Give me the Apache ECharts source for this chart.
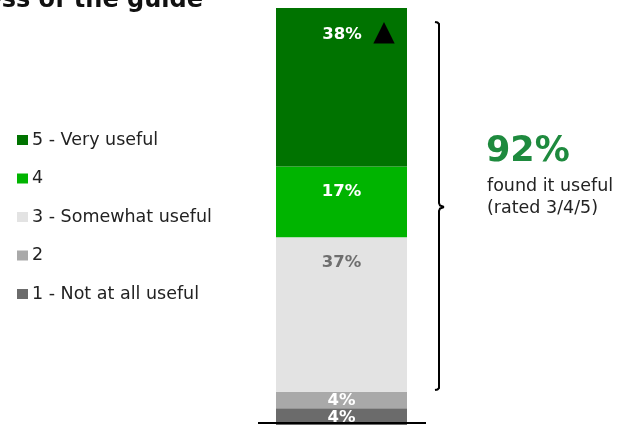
<!DOCTYPE html>
<html>
<head>
<meta charset="utf-8">
<script src="https://cdn.jsdelivr.net/npm/echarts@6/dist/echarts.min.js"></script>
<style>
  html, body { margin: 0; padding: 0; background: #fff; }
  #chart { width: 623px; height: 425px; }
</style>
</head>
<body>
<div id="chart"></div>
<script>
// Rating categories, top of the stack first
const ratings = ['5 - Very useful', '4', '3 - Somewhat useful', '2', '1 - Not at all useful'];
const shares = [38, 17, 37, 4, 4];
const colors = ['#007300', '#00b400', '#e3e3e3', '#a9a9a9', '#6b6b6b'];
const labelColors = ['#ffffff', '#ffffff', '#6e6e6e', '#ffffff', '#ffffff'];
const usefulShare = 92;
const FONT = '"DejaVu Sans", Inter, sans-serif';

const chart = echarts.init(document.getElementById('chart'), null, { renderer: 'canvas' });

// Stack is built bottom-up, so walk the ratings in reverse
const series = ratings.map((name, i) => {
  const big = shares[i] > 10;
  const label = {
    show: true,
    position: big ? 'insideTop' : 'inside',
    distance: 17,
    offset: [0, big ? 0 : 1],
    fontFamily: FONT,
    fontWeight: 'bold',
    fontSize: 16.5,
    color: labelColors[i],
    formatter: '{c}%'
  };
  if (i === 0) {
    label.distance = 11;
    label.offset = [17, 0];
    label.formatter = '{v|{c}%}  {t|▲}';
    label.rich = {
      v: { fontFamily: FONT, fontWeight: 'bold', fontSize: 16.5, color: '#fff', padding: [3, 0, 0, 0] },
      t: { fontFamily: 'DejaVu Sans', fontSize: 28, color: '#000' }
    };
  }
  return {
    name,
    type: 'bar',
    stack: 'all',
    barWidth: '100%',
    itemStyle: { color: colors[i] },
    data: [shares[i]],
    label
  };
}).reverse();

// Curly bracket beside the 3/4/5 part of the stack
const bx = 439, bTop = 22, bMid = 207, bBot = 390;
const bracket = [
  { type: 'polyline', shape: { points: [[435, bTop], [437.5, bTop + 0.5], [bx, bTop + 2], [bx, bTop + 4], [bx, bMid - 4], [bx + 1, bMid - 1.5], [bx + 5, bMid]] } },
  { type: 'polyline', shape: { points: [[bx + 5, bMid], [bx + 1, bMid + 1.5], [bx, bMid + 4], [bx, bBot - 4], [bx, bBot - 2], [437.5, bBot - 0.5], [435, bBot]] } }
].map(g => Object.assign(g, { style: { stroke: '#000', lineWidth: 2, fill: null } }));

chart.setOption({
  animation: false,
  grid: { left: 276, width: 131, top: 8, height: 417 },
  xAxis: { type: 'category', data: [''], show: false },
  yAxis: { type: 'value', min: 0, max: 100, show: false },
  legend: {
    data: ratings,
    orient: 'vertical',
    left: 17,
    top: 131,
    padding: 0,
    icon: 'rect',
    itemWidth: 11,
    itemHeight: 10,
    itemGap: 20.5,
    selectedMode: false,
    textStyle: { fontFamily: FONT, fontSize: 17.5, color: '#222', lineHeight: 17, padding: [0, 0, 0, -1] }
  },
  series,
  graphic: [
    {
      type: 'text', x: 203, y: 13,
      style: { text: 'Perceived usefulness of the guide', align: 'right', verticalAlign: 'bottom', fontFamily: FONT, fontWeight: 'bold', fontSize: 24, fill: '#111' }
    },
    {
      type: 'rect', shape: { x: 258, y: 422, width: 168, height: 2 },
      style: { fill: '#000' }, z: 10
    },
    ...bracket,
    {
      type: 'text', left: 486, top: 134,
      style: { text: usefulShare + '%', fontFamily: FONT, fontWeight: 'bold', fontSize: 35, fill: '#1e8a3e' }
    },
    {
      type: 'text', left: 487, top: 175,
      style: { text: 'found it useful\n(rated 3/4/5)', fontFamily: FONT, fontSize: 17.5, lineHeight: 22, fill: '#222' }
    }
  ]
});
</script>
</body>
</html>
